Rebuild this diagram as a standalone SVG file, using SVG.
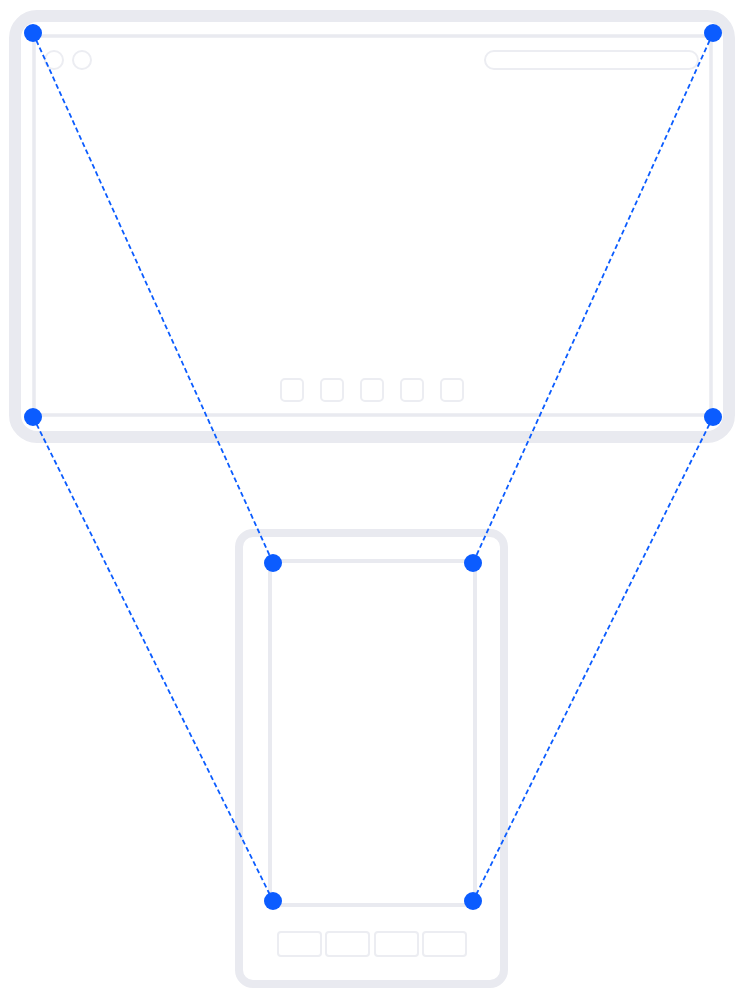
<svg xmlns="http://www.w3.org/2000/svg" width="744" height="1000" viewBox="0 0 744 1000">
<style>
.frame{fill:none;stroke:#E9EAF0}
.thin{fill:none;stroke:#ECEDF2;stroke-width:2}
.conn{fill:none;stroke:#0B5CFF;stroke-width:1.8;stroke-dasharray:5 3}
.dot{fill:#0B5CFF}
</style>
<rect width="744" height="1000" fill="#FFFFFF"/>
<g id="desktop">
<rect class="frame" x="15" y="16" width="714" height="421" rx="22" stroke-width="12"/>
<rect class="frame" x="34" y="36" width="677" height="379" rx="4" stroke-width="3.5"/>
<circle class="thin" cx="54" cy="60" r="9"/>
<circle class="thin" cx="82" cy="60" r="9"/>
<rect class="thin" x="485" y="51" width="213" height="18" rx="9"/>
<rect class="thin" x="281" y="379" width="22" height="22" rx="4"/>
<rect class="thin" x="321" y="379" width="22" height="22" rx="4"/>
<rect class="thin" x="361" y="379" width="22" height="22" rx="4"/>
<rect class="thin" x="401" y="379" width="22" height="22" rx="4"/>
<rect class="thin" x="441" y="379" width="22" height="22" rx="4"/>
</g>
<g id="phone">
<rect class="frame" x="239" y="533" width="265" height="451" rx="14" stroke-width="8"/>
<rect class="frame" x="270" y="561" width="205" height="344" rx="3" stroke-width="4"/>
<rect class="thin" x="278" y="932" width="43" height="24" rx="3"/>
<rect class="thin" x="326" y="932" width="43" height="24" rx="3"/>
<rect class="thin" x="375" y="932" width="43" height="24" rx="3"/>
<rect class="thin" x="423" y="932" width="43" height="24" rx="3"/>
</g>
<g id="connectors">
<line class="conn" x1="33" y1="33" x2="273" y2="563"/>
<line class="conn" x1="713" y1="33" x2="473" y2="563"/>
<line class="conn" x1="33" y1="417" x2="273" y2="901"/>
<line class="conn" x1="713" y1="417" x2="473" y2="901"/>
</g>
<g id="points">
<circle class="dot" cx="33" cy="33" r="9"/>
<circle class="dot" cx="713" cy="33" r="9"/>
<circle class="dot" cx="33" cy="417" r="9"/>
<circle class="dot" cx="713" cy="417" r="9"/>
<circle class="dot" cx="273" cy="563" r="9"/>
<circle class="dot" cx="473" cy="563" r="9"/>
<circle class="dot" cx="273" cy="901" r="9"/>
<circle class="dot" cx="473" cy="901" r="9"/>
</g>
</svg>
